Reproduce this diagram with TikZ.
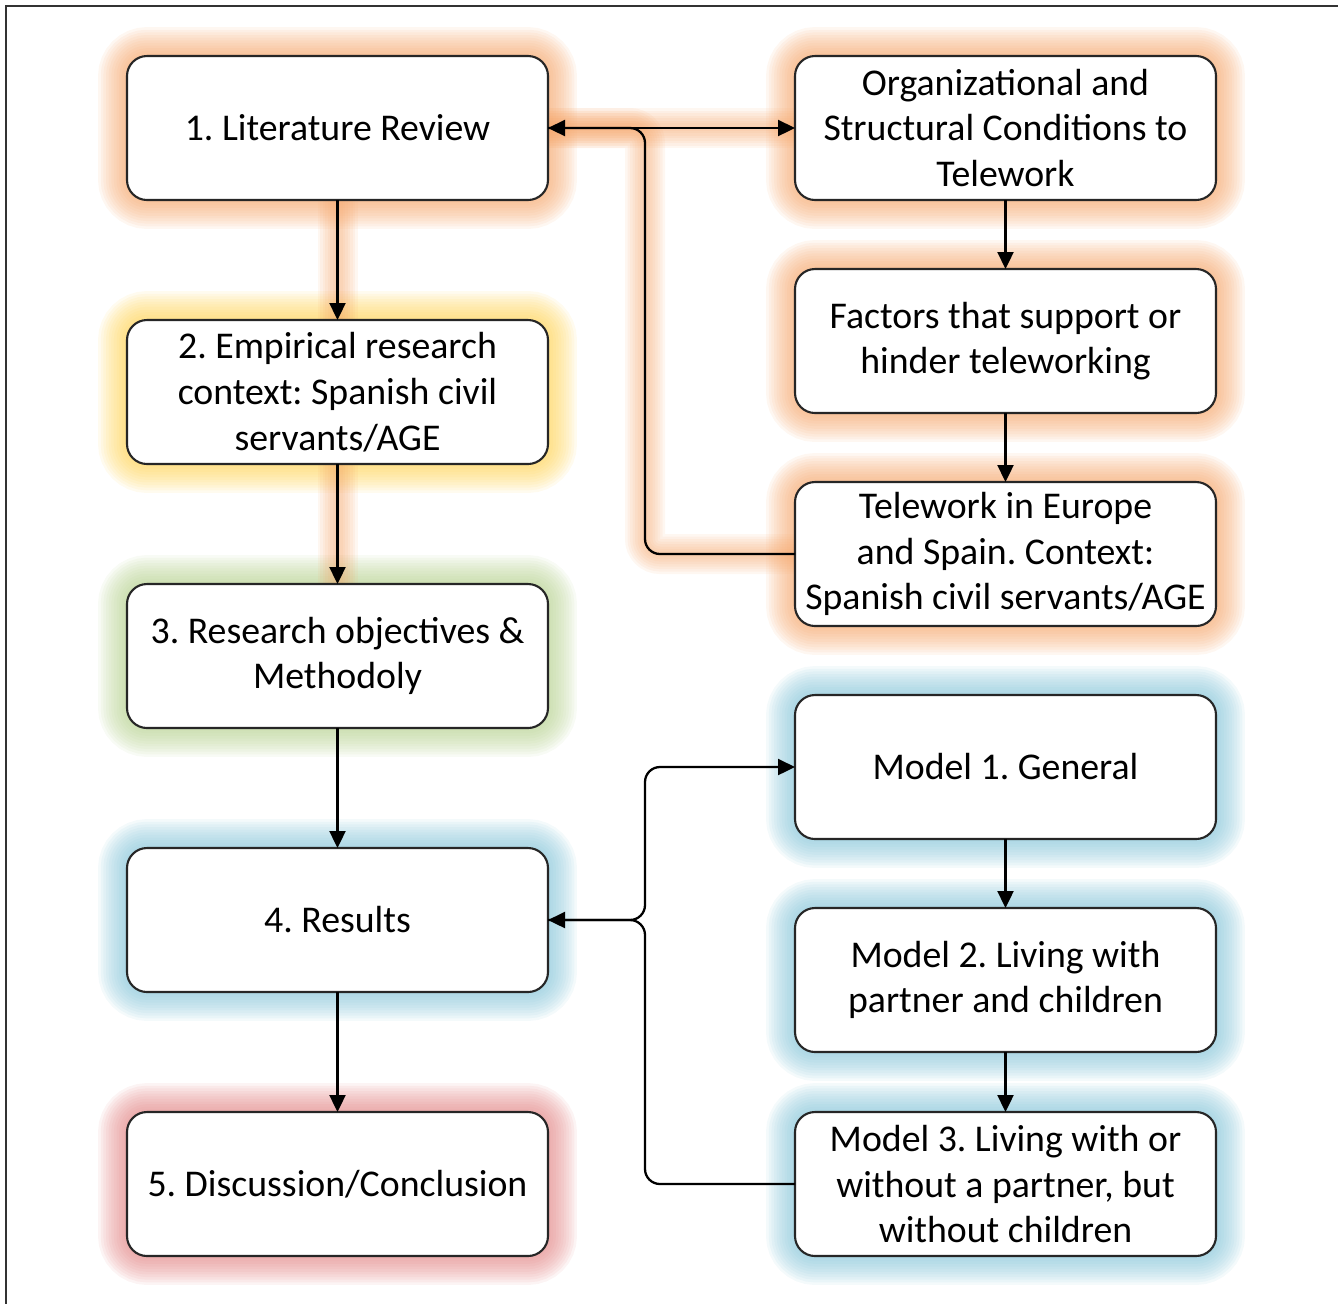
\documentclass[tikz,border=0pt]{standalone}
\usepackage{fontspec}
\setmainfont{Carlito}
\usetikzlibrary{positioning, backgrounds, arrows.meta}

\definecolor{gOrange}{RGB}{245,165,105}
\definecolor{gYellow}{RGB}{255,210,80}
\definecolor{gGreen}{RGB}{180,208,140}
\definecolor{gBlue}{RGB}{130,195,215}
\definecolor{gRed}{RGB}{225,130,130}

\begin{document}
\frenchspacing
\begin{tikzpicture}[
    bNode/.style={rectangle, draw=black!85, line width=1.2pt, rounded corners=4mm, fill=white, minimum width=8.42cm, minimum height=2.88cm, outer sep=0pt, align=center, inner sep=2pt, font=\fontsize{21.5}{26}\selectfont},
    link/.style={draw, line width=1.3pt, -{Triangle[length=3.4mm, width=3.2mm]}},
    dLink/.style={link, {Triangle[length=3.4mm, width=3.2mm]}-{Triangle[length=3.4mm, width=3.2mm]}},
    halo/.style={line width=#1, opacity=0.09, rounded corners=4mm},
    frameLine/.style={draw=black!80, line width=1.2pt}
]
    \useasboundingbox (0,0) rectangle (26.76,-26.08);
    \draw[frameLine] (26.76,-0.12) -- (0.12,-0.12) -- (0.12,-26.08);

    \node[bNode] (lit) at (6.75,-2.56) {1. Literature Review};
    \node[bNode, below=2.4cm of lit] (emp) {2. Empirical research\\context: Spanish civil\\servants/AGE};
    \node[bNode, below=2.4cm of emp] (obj) {3. Research objectives \&\\Methodoly};
    \node[bNode, below=2.4cm of obj] (res) {4. Results};
    \node[bNode, below=2.4cm of res] (disc) {5. Discussion/Conclusion};

    \node[bNode, right=4.94cm of lit] (org) {Organizational and\\Structural Conditions to\\Telework};
    \node[bNode, below=1.38cm of org] (fac) {Factors that support or\\hinder teleworking};
    \node[bNode, below=1.38cm of fac] (tel) {Telework in Europe\\and Spain. Context:\\Spanish civil servants/AGE};
    \node[bNode, below=1.38cm of tel] (mod1) {Model 1. General};
    \node[bNode, below=1.38cm of mod1] (mod2) {Model 2. Living with\\partner and children};
    \node[bNode, below=1.2cm of mod2] (mod3) {Model 3. Living with or\\without a partner, but\\without children};

    \coordinate[right=1.94cm of lit.east] (jt);
    \coordinate[right=1.94cm of res.east] (jr);

    \begin{scope}[on background layer]
    \foreach \n/\c in {lit/gOrange, org/gOrange, fac/gOrange, tel/gOrange, emp/gYellow, obj/gGreen, res/gBlue, mod1/gBlue, mod2/gBlue, mod3/gBlue, disc/gRed}
        \foreach \w in {1,...,11}
            \draw[halo=\w*1.05mm, \c] (\n.south west) rectangle (\n.north east);
    \foreach \w in {1,...,8} {
        \draw[halo=\w*1mm, gOrange] (lit.south) -- (emp.north) (emp.south) -- (obj.north);
        \draw[halo=\w*1mm, gOrange] (lit.east) -- (org.west);
        \draw[halo=\w*1mm, gOrange, rounded corners=3mm] (tel.west) -| (jt) -- (lit.east);
    }
    \end{scope}

    \path[link] (lit) -- (emp);
    \path[link] (emp) -- (obj);
    \path[link] (obj) -- (res);
    \path[link] (res) -- (disc);
    \path[link] (org) -- (fac);
    \path[link] (fac) -- (tel);
    \path[link] (mod1) -- (mod2);
    \path[link] (mod2) -- (mod3);
    \path[dLink] (lit) -- (org);
    \draw[line width=1.3pt, rounded corners=3mm] (tel.west) -| (jt) -- (lit.east);
    \path[dLink, rounded corners=3mm] (res.east) -| (jr |- mod1.west) -- (mod1.west);
    \draw[line width=1.3pt, rounded corners=3mm] (mod3.west) -| (jr) -- (res.east);
\end{tikzpicture}
\end{document}
